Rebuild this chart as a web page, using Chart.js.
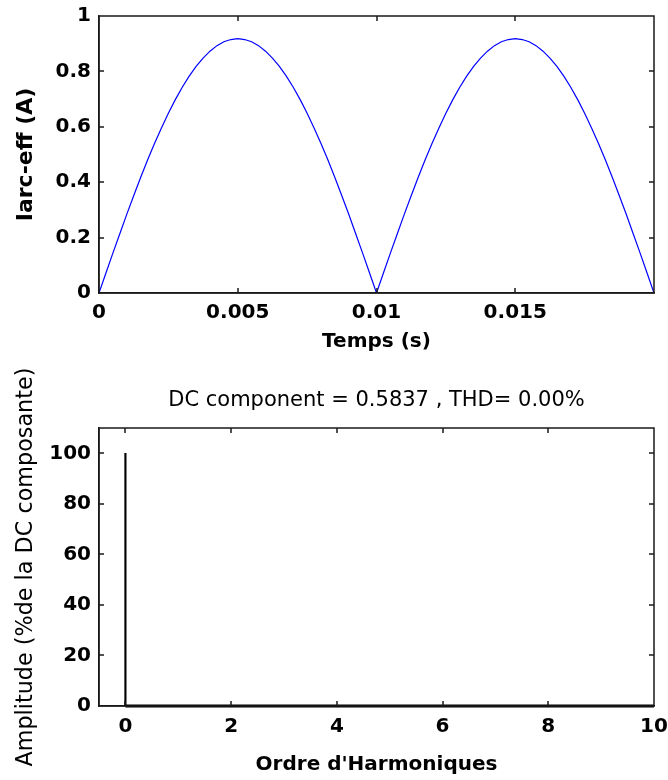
<!DOCTYPE html>
<html>
<head>
<meta charset="utf-8">
<script src="https://cdn.jsdelivr.net/npm/chart.js@4.4.1/dist/chart.umd.min.js"></script>
<style>
  html, body { margin: 0; padding: 0; background: #fff; }
  #wrap { position: relative; width: 668px; height: 780px; }
  canvas { position: absolute; left: 0; }
  #arc { top: 0; }
  #fft { top: 360px; }
</style>
</head>
<body>
<div id="wrap">
  <canvas id="arc" width="668" height="360"></canvas>
  <canvas id="fft" width="668" height="420"></canvas>
</div>
<script>
// arc current over one 50 Hz period (rectified)
const timeValues = [
  0, 0.00025, 0.0005, 0.00075, 0.001, 0.00125, 0.0015, 0.00175, 0.002, 0.00225,
  0.0025, 0.00275, 0.003, 0.00325, 0.0035, 0.00375, 0.004, 0.00425, 0.0045, 0.00475,
  0.005, 0.00525, 0.0055, 0.00575, 0.006, 0.00625, 0.0065, 0.00675, 0.007, 0.00725,
  0.0075, 0.00775, 0.008, 0.00825, 0.0085, 0.00875, 0.009, 0.00925, 0.0095, 0.00975,
  0.01, 0.01025, 0.0105, 0.01075, 0.011, 0.01125, 0.0115, 0.01175, 0.012, 0.01225,
  0.0125, 0.01275, 0.013, 0.01325, 0.0135, 0.01375, 0.014, 0.01425, 0.0145, 0.01475,
  0.015, 0.01525, 0.0155, 0.01575, 0.016, 0.01625, 0.0165, 0.01675, 0.017, 0.01725,
  0.0175, 0.01775, 0.018, 0.01825, 0.0185, 0.01875, 0.019, 0.01925, 0.0195, 0.01975,
  0.02
];
const currentValues = [
  0, 0.072, 0.144, 0.214, 0.284, 0.351, 0.417, 0.480, 0.540, 0.596,
  0.649, 0.698, 0.743, 0.783, 0.818, 0.848, 0.873, 0.893, 0.907, 0.915,
  0.918, 0.915, 0.907, 0.893, 0.873, 0.848, 0.818, 0.783, 0.743, 0.698,
  0.649, 0.596, 0.540, 0.480, 0.417, 0.351, 0.284, 0.214, 0.144, 0.072,
  0, 0.072, 0.144, 0.214, 0.284, 0.351, 0.417, 0.480, 0.540, 0.596,
  0.649, 0.698, 0.743, 0.783, 0.818, 0.848, 0.873, 0.893, 0.907, 0.915,
  0.918, 0.915, 0.907, 0.893, 0.873, 0.848, 0.818, 0.783, 0.743, 0.698,
  0.649, 0.596, 0.540, 0.480, 0.417, 0.351, 0.284, 0.214, 0.144, 0.072,
  0
];
const timeTicks = [0, 0.005, 0.01, 0.015];
const currentTicks = [0, 0.2, 0.4, 0.6, 0.8, 1];

// harmonic spectrum (% of DC component)
const harmonicOrders = [0, 1, 2, 3, 4, 5, 6, 7, 8, 9, 10];
const harmonicAmps = [100, 0, 0, 0, 0, 0, 0, 0, 0, 0, 0];
const orderTicks = [0, 2, 4, 6, 8, 10];
const ampTicks = [0, 20, 40, 60, 80, 100];

const FONT = 'DejaVu Sans';
const AXIS = '#1a1a1a';
const bold = size => ({ family: FONT, size: size, weight: 'bold' });
const plain = size => ({ family: FONT, size: size, weight: 'normal' });
const fmt = v => String(+v.toFixed(4));

const noGrid = { display: false, drawTicks: false, tickLength: 0 };
const axisBorder = { display: true, color: AXIS, width: 1.5 };

function setTicks(list) {
  return scale => { scale.ticks = list.map(v => ({ value: v })); };
}
function fixSize(prop, px) {
  return scale => {
    scale[prop] = px;
    scale.paddingLeft = scale.paddingRight = scale.paddingTop = scale.paddingBottom = 0;
  };
}

// axes box with inward tick marks on all four sides
const boxTicks = {
  id: 'boxTicks',
  afterDatasetsDraw(chart) {
    const { ctx, chartArea: a, scales } = chart;
    const len = 5;
    const l = Math.round(a.left), r = Math.round(a.right);
    const t = Math.round(a.top), b = Math.round(a.bottom);
    ctx.save();
    ctx.strokeStyle = AXIS;
    ctx.lineWidth = 1.5;
    ctx.beginPath();
    ctx.rect(l, t, r - l, b - t);
    scales.x.ticks.forEach(tk => {
      const px = Math.round(scales.x.getPixelForValue(tk.value));
      ctx.moveTo(px, b); ctx.lineTo(px, b - len);
      ctx.moveTo(px, t); ctx.lineTo(px, t + len);
    });
    scales.y.ticks.forEach(tk => {
      const py = Math.round(scales.y.getPixelForValue(tk.value));
      ctx.moveTo(l, py); ctx.lineTo(l + len, py);
      ctx.moveTo(r, py); ctx.lineTo(r - len, py);
    });
    ctx.stroke();
    ctx.restore();
  }
};

new Chart(document.getElementById('arc'), {
  type: 'line',
  data: {
    datasets: [{
      data: timeValues.map((t, i) => ({ x: t, y: currentValues[i] })),
      borderColor: '#0000ff',
      borderWidth: 1.2,
      pointRadius: 0,
      tension: 0,
      fill: false
    }]
  },
  options: {
    responsive: false,
    animation: false,
    layout: { padding: { top: 16, right: 14, left: 0, bottom: 0 } },
    plugins: { legend: { display: false }, tooltip: { enabled: false } },
    scales: {
      x: {
        type: 'linear', position: 'bottom', min: 0, max: 0.02,
        afterBuildTicks: setTicks(timeTicks),
        afterFit: fixSize('height', 67),
        grid: noGrid, border: axisBorder,
        ticks: { font: bold(20), color: '#000', padding: 8, maxRotation: 0, autoSkip: false, callback: fmt },
        title: { display: true, text: 'Temps (s)', font: bold(20), color: '#000', padding: { top: 0, bottom: 6 } }
      },
      y: {
        type: 'linear', position: 'left', min: 0, max: 1,
        afterBuildTicks: setTicks(currentTicks),
        afterFit: fixSize('width', 99),
        grid: noGrid, border: axisBorder,
        ticks: { font: bold(20), color: '#000', padding: 8, autoSkip: false, callback: fmt },
        title: { display: true, text: 'Iarc-eff (A)', font: bold(22), color: '#000', padding: { top: 13, bottom: 0 } }
      }
    }
  },
  plugins: [boxTicks]
});

new Chart(document.getElementById('fft'), {
  data: {
    datasets: [{
      // zero-level trace under the harmonic bars
      type: 'line',
      data: harmonicOrders.map(h => ({ x: h, y: 0 })),
      borderColor: '#000',
      borderWidth: 3,
      pointRadius: 0,
      fill: false,
      clip: false
    }, {
      type: 'bar',
      data: harmonicOrders.map((h, i) => ({ x: h, y: harmonicAmps[i] })),
      backgroundColor: '#000',
      borderWidth: 0,
      barThickness: 1.5
    }]
  },
  options: {
    responsive: false,
    animation: false,
    layout: { padding: { top: 0, right: 14, left: 0, bottom: 0 } },
    plugins: {
      legend: { display: false },
      tooltip: { enabled: false },
      title: {
        display: true, fullSize: false,
        text: 'DC component = 0.5837 , THD= 0.00%',
        font: plain(21), color: '#000',
        padding: { top: 28, bottom: 15 }
      }
    },
    scales: {
      x: {
        type: 'linear', position: 'bottom', min: -0.5, max: 10, offset: false,
        afterBuildTicks: setTicks(orderTicks),
        afterFit: fixSize('height', 74),
        grid: noGrid, border: axisBorder,
        ticks: { font: bold(20), color: '#000', padding: 8.5, maxRotation: 0, autoSkip: false, callback: fmt },
        title: { display: true, text: "Ordre d'Harmoniques", font: bold(20), color: '#000', padding: { top: 0, bottom: 3 } }
      },
      y: {
        type: 'linear', position: 'left', min: 0, max: 110,
        afterBuildTicks: setTicks(ampTicks),
        afterFit: fixSize('width', 99),
        grid: noGrid, border: axisBorder,
        ticks: { font: bold(20), color: '#000', padding: 8, autoSkip: false, callback: fmt },
        title: { display: true, text: 'Amplitude (%de la DC composante)', font: plain(22.3), color: '#000', padding: { top: 13, bottom: 0 } }
      }
    }
  },
  plugins: [boxTicks]
});
</script>
</body>
</html>
